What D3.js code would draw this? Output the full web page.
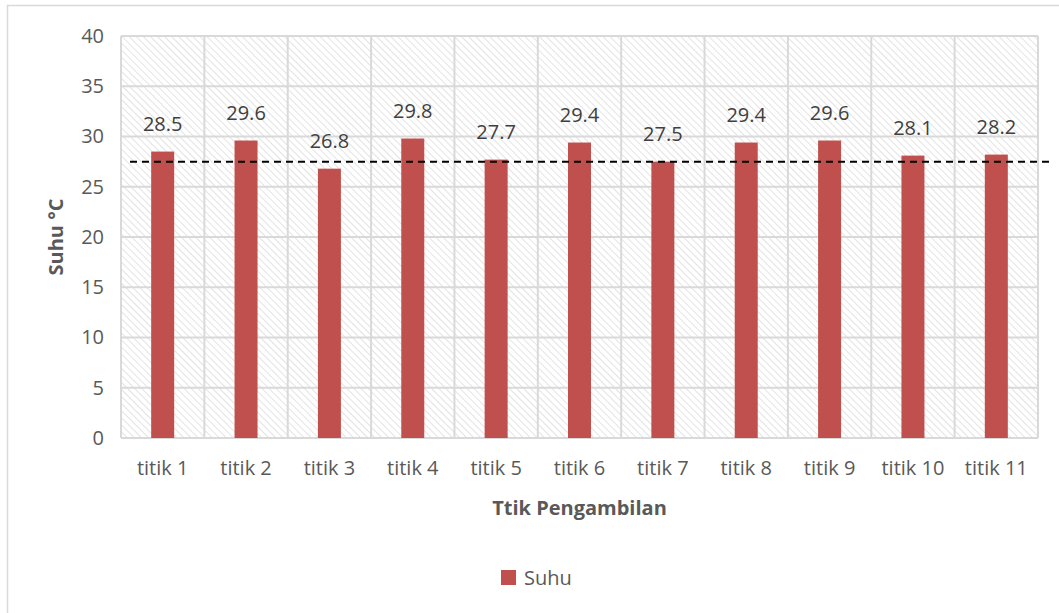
<!DOCTYPE html>
<html>
<head>
<meta charset="utf-8">
<script src="https://cdn.jsdelivr.net/npm/d3@7"></script>
<style>
  body { margin: 0; background: #fff; }
  svg { display: block; font-family: "Open Sans", "Noto Sans", sans-serif; }
</style>
</head>
<body>
<svg id="chart" width="1059" height="613"></svg>
<script>
// Temperature per sampling point
const categories = ["titik 1", "titik 2", "titik 3", "titik 4", "titik 5", "titik 6",
                    "titik 7", "titik 8", "titik 9", "titik 10", "titik 11"];
const suhu = [28.5, 29.6, 26.8, 29.8, 27.7, 29.4, 27.5, 29.4, 29.6, 28.1, 28.2];
const yTicks = [0, 5, 10, 15, 20, 25, 30, 35, 40];
const referenceLine = 27.5;

const svg = d3.select("#chart");
const W = 1059, H = 613;
const m = { left: 121, right: 1038, top: 36, bottom: 438 };
const FS = "20px";

// chart frame
svg.append("rect")
  .attr("x", 7.5).attr("y", 5.5)
  .attr("width", W + 10).attr("height", H + 10)
  .attr("fill", "#fff").attr("stroke", "#d9d9d9").attr("stroke-width", 1.5);

// diagonal hatch fill for the plot area
const defs = svg.append("defs");
const pat = defs.append("pattern")
  .attr("id", "hatch").attr("patternUnits", "userSpaceOnUse")
  .attr("width", 5).attr("height", 5)
  .attr("patternTransform", "rotate(-45)");
pat.append("rect").attr("width", 5).attr("height", 5).attr("fill", "#fff");
pat.append("line").attr("x1", 0).attr("y1", 0).attr("x2", 0).attr("y2", 5)
  .attr("stroke", "#dcdcdc").attr("stroke-width", 1.6);

const x = d3.scaleBand().domain(categories).range([m.left, m.right]).paddingInner(0).paddingOuter(0);
const y = d3.scaleLinear().domain([0, 40]).range([m.bottom, m.top]);

svg.append("rect")
  .attr("x", m.left).attr("y", m.top)
  .attr("width", m.right - m.left).attr("height", m.bottom - m.top)
  .attr("fill", "url(#hatch)");

// gridlines: horizontal at each tick, vertical at category boundaries
const grid = svg.append("g").attr("stroke", "#d9d9d9").attr("stroke-width", 2);
grid.selectAll("line.h").data(yTicks).join("line")
  .attr("x1", m.left).attr("x2", m.right)
  .attr("y1", d => y(d)).attr("y2", d => y(d));
const bounds = categories.map(c => x(c)).concat([m.right]);
grid.selectAll("line.v").data(bounds).join("line")
  .attr("x1", d => d).attr("x2", d => d)
  .attr("y1", m.top).attr("y2", m.bottom);

// y axis labels
const yAxis = svg.append("g")
  .attr("transform", `translate(${m.left - 17},0)`)
  .call(d3.axisLeft(y).tickValues(yTicks).tickSize(0).tickPadding(0));
yAxis.select(".domain").remove();
yAxis.selectAll("text").attr("fill", "#595959").style("font-size", FS)
  .style("font-family", "'Open Sans', sans-serif");

// x axis labels
const xAxis = svg.append("g")
  .attr("transform", `translate(0,${m.bottom + 21})`)
  .call(d3.axisBottom(x).tickSize(0).tickPadding(0));
xAxis.select(".domain").remove();
xAxis.selectAll("text").attr("fill", "#595959").style("font-size", FS)
  .style("font-family", "'Open Sans', sans-serif").attr("dy", "0.8em");

// bars
const barW = 23;
svg.append("g").selectAll("rect").data(categories).join("rect")
  .attr("x", (d) => x(d) + x.bandwidth() / 2 - barW / 2)
  .attr("y", (d, i) => y(suhu[i]))
  .attr("width", barW)
  .attr("height", (d, i) => y(0) - y(suhu[i]))
  .attr("fill", "#c0504d");

// value labels
svg.append("g").selectAll("text").data(categories).join("text")
  .attr("x", d => x(d) + x.bandwidth() / 2)
  .attr("y", (d, i) => y(suhu[i]) - 21)
  .attr("text-anchor", "middle")
  .attr("fill", "#404040")
  .style("font-size", FS)
  .text((d, i) => suhu[i].toFixed(1));

// dashed reference line
svg.append("line")
  .attr("x1", 130).attr("x2", 1049)
  .attr("y1", y(referenceLine)).attr("y2", y(referenceLine))
  .attr("stroke", "#000").attr("stroke-width", 2)
  .attr("stroke-dasharray", "7,5");

// axis titles
svg.append("text")
  .attr("x", (m.left + m.right) / 2).attr("y", 515)
  .attr("text-anchor", "middle").attr("fill", "#595959")
  .style("font-size", FS).style("font-weight", "bold")
  .text("Ttik Pengambilan");

svg.append("text")
  .attr("transform", `translate(63,${(m.top + m.bottom) / 2}) rotate(-90)`)
  .attr("text-anchor", "middle").attr("fill", "#595959")
  .style("font-size", FS).style("font-weight", "bold")
  .text("Suhu °C");

// legend
const lg = svg.append("g").attr("transform", "translate(501,570)");
lg.append("rect").attr("x", 0).attr("y", 0).attr("width", 15).attr("height", 15).attr("fill", "#c0504d");
lg.append("text").attr("x", 23).attr("y", 15).attr("fill", "#595959")
  .style("font-size", FS).text("Suhu");
</script>
</body>
</html>
